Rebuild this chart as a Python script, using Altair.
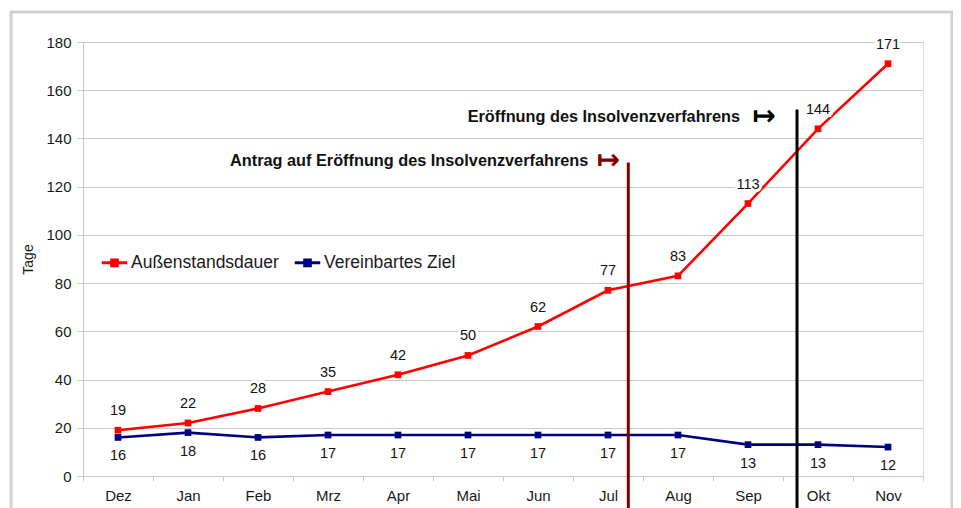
import json
import altair as alt
import pandas as pd

# ---- data ----
months = ["Dez", "Jan", "Feb", "Mrz", "Apr", "Mai", "Jun", "Jul", "Aug", "Sep", "Okt", "Nov"]
series_names = ["Außenstandsdauer", "Vereinbartes Ziel"]
dso_days = [19, 22, 28, 35, 42, 50, 62, 77, 83, 113, 144, 171]
target_days = [16, 18, 16, 17, 17, 17, 17, 17, 17, 13, 13, 12]
event_labels = ["Antrag auf Eröffnung des Insolvenzverfahrens", "Eröffnung des Insolvenzverfahrens"]
event_month_pos = [7.29, 9.7]   # position on the month axis (Dez = 0)
event_top_days = [130, 152]      # upper end of the marker line, in Tage
y_ticks = list(range(0, 181, 20))

# ---- styles ----
series_colors = ["#ff0000", "#000080"]
event_colors = ["#800000", "#000000"]
event_text_dx = [-40, -57]
event_text_dy = [-2, 7]
event_arrow_dx = [-20, -33]
FONT = "Liberation Sans"
GRID = "#c8c8c8"
W, H = 840, 434

rows = []
for name, vals in zip(series_names, [dso_days, target_days]):
    for i, (m, v) in enumerate(zip(months, vals)):
        rows.append({"serie": name, "idx": i, "monat": m, "tage": v})
df = pd.DataFrame(rows)
ev = pd.DataFrame({"label": event_labels, "pos": event_month_pos,
                   "top": event_top_days, "farbe": event_colors})

xscale = alt.Scale(domain=[-0.5, len(months) - 0.5], nice=False, zero=False)
yscale = alt.Scale(domain=[0, 180], nice=False)
month_expr = json.dumps(months) + "[round(datum.value + 0.5)] || ''"

xaxis = alt.Axis(values=[i - 0.5 for i in range(len(months) + 1)], labelExpr=month_expr,
                 labelOffset=35, labelFlush=False, labelOverlap=False, labelBound=False,
                 grid=False, tickSize=5, tickColor=GRID, domainColor=GRID,
                 labelFont=FONT, labelFontSize=15, labelColor="#1a1a1a", labelPadding=7,
                 title=None)
yaxis = alt.Axis(values=y_ticks, grid=True, gridColor=GRID, tickSize=6, tickColor=GRID,
                 domainColor=GRID, labelFont=FONT, labelFontSize=15, labelColor="#1a1a1a",
                 labelPadding=6, title="Tage", titleFont=FONT, titleFontSize=14,
                 titleFontWeight="normal", titleColor="#1a1a1a", titlePadding=10)

X = alt.X("idx:Q", scale=xscale, axis=xaxis)
Y = alt.Y("tage:Q", scale=yscale, axis=yaxis)
color_scale = alt.Scale(domain=series_names, range=series_colors)

legend = alt.Legend(orient="none", legendX=17, legendY=206, direction="horizontal", title=None,
                    labelFont=FONT, labelFontSize=17.5, labelColor="#1a1a1a",
                    symbolType="M-1,0H1M-0.22,-0.22H0.22V0.22H-0.22Z",
                    symbolSize=650, symbolStrokeWidth=3, labelOffset=2, columnPadding=9)

frame = alt.Chart(pd.DataFrame({"a": [0]})).mark_rect(
    fill=None, stroke="#d0d0d0", strokeWidth=3
).encode(x=alt.value(-72), x2=alt.value(869), y=alt.value(-30), y2=alt.value(H + 120))

line = alt.Chart(df).mark_line(strokeWidth=2.6).encode(
    x=X, y=Y, color=alt.Color("serie:N", scale=color_scale, legend=legend))
pts = alt.Chart(df).mark_square(size=45, opacity=1).encode(
    x=X, y=Y, color=alt.Color("serie:N", scale=color_scale, legend=None))

lab_style = dict(font=FONT, fontSize=14.5, baseline="middle")
upper = alt.Chart(df).transform_filter(alt.datum.serie == series_names[0])
lower = alt.Chart(df).transform_filter(alt.datum.serie == series_names[1])
halo_up = upper.mark_text(dy=-19, fill="white", stroke="white", strokeWidth=6, **lab_style).encode(
    x=X, y=Y, text="tage:Q")
text_up = upper.mark_text(dy=-19, fill="#111111", **lab_style).encode(x=X, y=Y, text="tage:Q")
halo_lo = lower.mark_text(dy=19, fill="white", stroke="white", strokeWidth=6, **lab_style).encode(
    x=X, y=Y, text="tage:Q")
text_lo = lower.mark_text(dy=19, fill="#111111", **lab_style).encode(x=X, y=Y, text="tage:Q")

EX = alt.X("pos:Q", scale=xscale)
EY = alt.Y("top:Q", scale=yscale)
rules = alt.Chart(ev).mark_rule(strokeWidth=3).encode(
    x=EX, y=EY, y2=alt.value(H + 60), color=alt.Color("farbe:N", scale=None))

ann_layers = []
for i, lbl in enumerate(event_labels):
    base = alt.Chart(ev).transform_filter(alt.datum.label == lbl)
    ann_layers.append(base.mark_text(align="right", baseline="middle", font=FONT, fontSize=16.3,
                                     fontWeight="bold", color="#111111",
                                     dx=event_text_dx[i], dy=event_text_dy[i]).encode(
        x=EX, y=EY, text="label:N"))
    ann_layers.append(base.mark_text(align="center", baseline="middle", font="DejaVu Sans",
                                     fontSize=28, fontWeight="bold", color=event_colors[i],
                                     dx=event_arrow_dx[i], dy=event_text_dy[i]).encode(
        x=EX, y=EY, text=alt.value("↦")))

chart = alt.layer(frame, line, pts, halo_up, halo_lo, text_up, text_lo, *ann_layers, rules).properties(
    width=W, height=H,
    autosize=alt.AutoSizeParams(type="none"),
    padding={"left": 75, "top": 34, "right": 30, "bottom": 40},
).configure_view(stroke=GRID).configure(background="white")

chart.save("out.html", embed_options={"renderer": "svg", "actions": False})
